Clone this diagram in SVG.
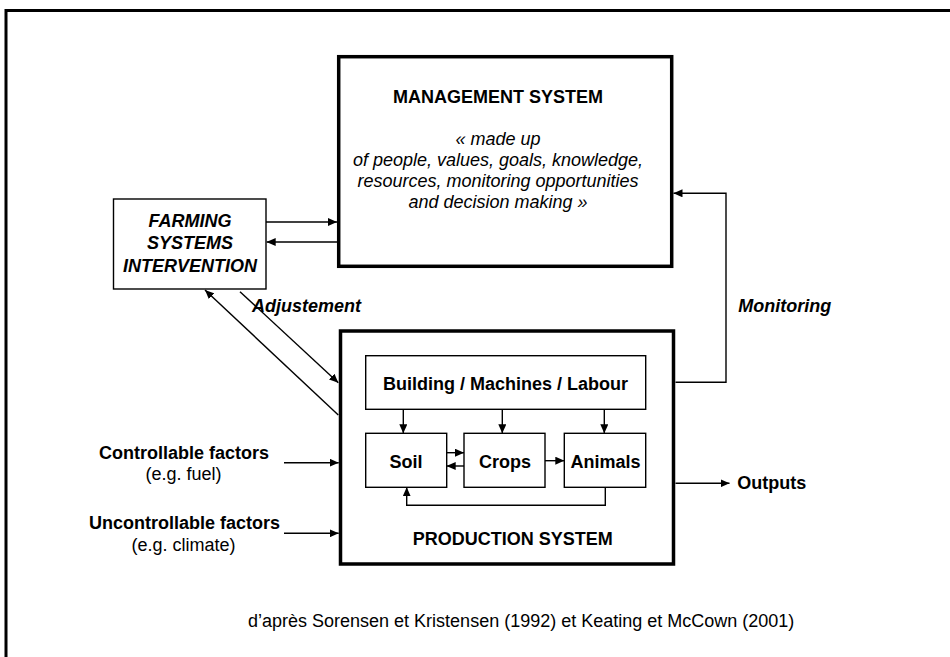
<svg xmlns="http://www.w3.org/2000/svg" width="950" height="657" viewBox="0 0 950 657">
<defs>
<marker id="ah" markerUnits="userSpaceOnUse" markerWidth="9" markerHeight="8" refX="9" refY="4" orient="auto">
<path d="M0,0 L9,4 L0,8 z" fill="#000"/>
</marker>
</defs>
<style>
text{font-family:"Liberation Sans",Arial,sans-serif;font-size:18px;fill:#000}
.b{font-weight:bold}
.i{font-style:italic}
.m{text-anchor:middle}
.thick{fill:#fff;stroke:#000;stroke-width:3.5}
.thin{fill:#fff;stroke:#000;stroke-width:1.4}
.c{fill:none;stroke:#000;stroke-width:1.4;marker-end:url(#ah)}
.cn{fill:none;stroke:#000;stroke-width:1.4}
</style>
<rect width="950" height="657" fill="#fff"/>
<rect x="6" y="10.5" width="1000" height="1000" fill="none" stroke="#000" stroke-width="3"/>

<g id="management">
<rect class="thick" x="338.7" y="56.7" width="333" height="209.6"/>
<text class="b m" x="498" y="102.5">MANAGEMENT SYSTEM</text>
<text class="i m" x="498" y="145">« made up</text>
<text class="i m" x="498" y="166">of people, values, goals, knowledge,</text>
<text class="i m" x="498" y="187">resources, monitoring opportunities</text>
<text class="i m" x="498" y="208">and decision making »</text>
</g>

<g id="farming">
<rect class="thin" x="113.5" y="199" width="152.5" height="90"/>
<text class="b i m" x="190" y="226.5">FARMING</text>
<text class="b i m" x="190" y="249">SYSTEMS</text>
<text class="b i m" x="190" y="271.5">INTERVENTION</text>
</g>

<g id="production">
<rect class="thick" x="340.5" y="331" width="333" height="233"/>
<text class="b m" x="512.7" y="545">PRODUCTION SYSTEM</text>
</g>

<g id="building">
<rect class="thin" x="365.7" y="355.7" width="280" height="53.6"/>
<text class="b m" x="505.5" y="389.5">Building / Machines / Labour</text>
</g>

<g id="soil">
<rect class="thin" x="365.7" y="433.3" width="81" height="54"/>
<text class="b m" x="406" y="468">Soil</text>
</g>

<g id="crops">
<rect class="thin" x="464" y="433.3" width="81" height="54"/>
<text class="b m" x="505" y="468">Crops</text>
</g>

<g id="animals">
<rect class="thin" x="564.3" y="433.3" width="81.4" height="54"/>
<text class="b m" x="605.5" y="468">Animals</text>
</g>

<g id="labels">
<text class="b i" x="252" y="311.5">Adjustement</text>
<text class="b i" x="738.3" y="311.7">Monitoring</text>
<text class="b" x="737.3" y="488.5">Outputs</text>
<text class="b m" x="184" y="459.3">Controllable factors</text>
<text class="m" x="183.5" y="480">(e.g. fuel)</text>
<text class="b m" x="184.5" y="529">Uncontrollable factors</text>
<text class="m" x="183.5" y="550.7">(e.g. climate)</text>
<text x="248" y="627">d’après Sorensen et Kristensen (1992) et Keating et McCown (2001)</text>
</g>

<g id="connectors">
<path class="c" d="M266 222 H337"/>
<path class="c" d="M337 242 H266.7"/>
<path class="c" d="M240 291.7 L338.3 382.7"/>
<path class="c" d="M338.3 415 L205 290"/>
<path class="c" d="M675.5 382.3 H726 V193.3 H673.5"/>
<path class="c" d="M675.5 483.3 H729.5"/>
<path class="c" d="M284 462.7 H338.7"/>
<path class="c" d="M284 533.3 H338.7"/>
<path class="c" d="M403.3 409.3 V433.3"/>
<path class="c" d="M502.3 409.3 V433.3"/>
<path class="c" d="M604.3 409.3 V433.3"/>
<path class="c" d="M446.7 452.7 H464"/>
<path class="c" d="M464 466 H446.7"/>
<path class="c" d="M545 460.7 H564.3"/>
<path class="c" d="M605.3 487.3 V505.3 H406.7 V487.3"/>
</g>
</svg>
